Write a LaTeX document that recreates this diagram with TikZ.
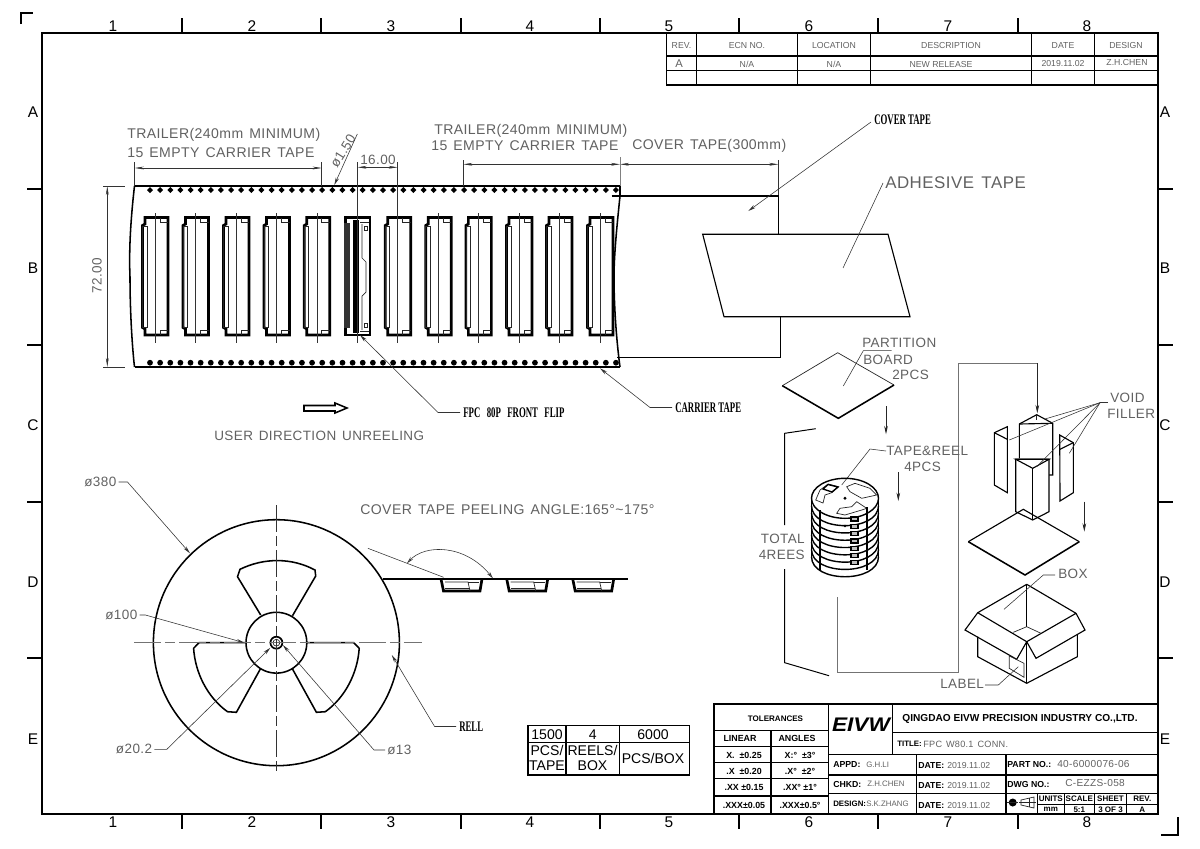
\documentclass[tikz,border=0pt]{standalone}
\usepackage{fontspec}
\setmainfont{Liberation Sans}
\newfontfamily\serifcond[FakeStretch=.6]{Liberation Serif}
\newfontfamily\logofont[FakeStretch=1.15]{Liberation Sans}
\newfontfamily\cadfont[LetterSpace=3,WordSpace=1.4]{Liberation Sans}
\usetikzlibrary{arrows.meta}
\definecolor{cadgray}{gray}{.38}
\newcommand{\fs}[1]{\fontsize{#1}{#1}\selectfont}
\tikzset{
  x=0.025cm,y=-0.025cm,
  thinline/.style={line width=.5pt,draw=black!85},
  heavy/.style={line width=1.9pt,line join=miter},
  frame/.style={line width=1.1pt},
  midline/.style={line width=.8pt},
  leader/.style={line width=.4pt,draw=black!80,-{Stealth[length=5.5pt,width=2.4pt]}},
  dimline/.style={line width=.4pt,draw=black!80,{Stealth[length=6.5pt,width=2pt]}-{Stealth[length=6.5pt,width=2pt]}},
  extline/.style={line width=.4pt,draw=black!80},
  flow/.style={line width=.7pt,draw=black!55},
  drop/.style={line width=.5pt,draw=black!85,-{Stealth[length=6pt,width=2.6pt]}},
  cadtext/.style={font=\fs{10}\cadfont,text=cadgray,inner sep=0pt,anchor=west},
  cadsmall/.style={cadtext,font=\fs{9.6}\cadfont},
  calltext/.style={font=\fs{10.4}\serifcond\bfseries,text=black,inner sep=0pt,anchor=west},
  bordertext/.style={font=\fs{11},text=black,inner sep=0pt},
  revtext/.style={font=\fs{6.2},text=cadgray,inner sep=0pt},
  boxtext/.style={font=\fs{10},text=black,inner sep=0pt},
  tolbold/.style={font=\fs{5.7}\bfseries,text=black,inner sep=0pt},
  tolvalue/.style={font=\fs{6.3}\bfseries,text=black,inner sep=0pt},
  blockbold/.style={font=\fs{6.2}\bfseries,text=black,inner sep=0pt,anchor=west},
  blockgray/.style={font=\fs{6.2},text=cadgray,inner sep=0pt,anchor=west},
  blockcad/.style={font=\fs{7.2}\cadfont,text=cadgray,inner sep=0pt,anchor=west},
}

\begin{document}
\begin{tikzpicture}
  \useasboundingbox (0,0) rectangle (1200,848);

  % sheet frame
  \draw[frame] (42,33) rectangle (1158,814);
  \draw[frame] (21,24) -- (21,13) -- (33,13);
  \draw[frame] (1178,817) -- (1178,835) -- (1161,835);
  \foreach \x in {182,321,461,600,739,878,1018}{
    \draw[frame] (\x,18) -- (\x,33);
    \draw[frame] (\x,814) -- (\x,829);
  }
  \foreach \y in {189,345,502,658}{
    \draw[frame] (27,\y) -- (42,\y);
    \draw[frame] (1158,\y) -- (1173,\y);
  }
  \foreach \n/\x in {1/113,2/252,3/391,4/530,5/669,6/809,7/948,8/1087}{
    \node[bordertext] (top\n) at (\x,26) {\n};
    \node[bordertext] (bot\n) at (\x,822) {\n};
  }
  \foreach \n/\y in {A/112,B/268,C/425,D/582,E/739}{
    \node[bordertext] (left\n) at (33,\y) {\n};
    \node[bordertext] (right\n) at (1165,\y) {\n};
  }

  % revision table
  \draw[frame] (666.7,33) rectangle (1158,85);
  \draw[frame] (666.7,56) -- (1158,56);
  \draw[frame] (666.7,70.7) -- (1158,70.7);
  \foreach \x in {696.7,797.7,870.3,1031.7,1094.3}
    \draw[frame] (\x,33) -- (\x,85);
  \node[revtext] (revA) at (681.5,45) {REV.};
  \node[revtext] (revB) at (747,45) {ECN NO.};
  \node[revtext] (revC) at (834,45) {LOCATION};
  \node[revtext] (revD) at (951,45) {DESCRIPTION};
  \node[revtext] (revE) at (1063,45) {DATE};
  \node[revtext] (revF) at (1126,45) {DESIGN};
  \node[font=\fs{8},text=cadgray,inner sep=0pt] (valA) at (679,63.5) {A};
  \node[revtext] (valB) at (747,64) {N/A};
  \node[revtext] (valC) at (834,64) {N/A};
  \node[revtext] (valD) at (941,64) {NEW RELEASE};
  \node[revtext] (valE) at (1063,63.5) {2019.11.02};
  \node[revtext] (valF) at (1127,62.5) {Z.H.CHEN};

  % carrier tape
  \draw[heavy] (134.5,186) -- (620,186);
  \draw[frame] (134.5,367) -- (620,367);
  \draw[frame] (134.5,186) .. controls (130,225) and (129,255) .. (130,277) .. controls (130,310) and (132,345) .. (134.5,367);
  \draw[frame] (620,186) -- (620,196);
  \draw[frame] (620,196) .. controls (617,225) and (614,255) .. (614,277) .. controls (614,310) and (617,345) .. (620,367);
  \foreach \x in {150,160.13,...,616.5}{
    \fill (\x-3,190) -- (\x,187) -- (\x+3,190) -- (\x,193) -- cycle;
    \fill (\x,362.7) circle[radius=2.9];
  }
  % plain pockets
  \foreach \x in {155,195.5,236,276.5,316.8,397.7,438.2,478.4,519,559,600}{
    \draw[heavy] (\x-10,217.5) -- (\x+13,217.5) -- (\x+13,335) -- (\x-10,335) -- (\x-10,329) -- (\x-12.5,327.5) -- (\x-12.5,225.5) -- (\x-10,224) -- cycle;
    \draw[thinline] (\x-12.5,226) rectangle (\x-8,327);
    \draw[thinline] (\x+5,217.5) -- (\x+5,222.5) -- (\x+13,222.5);
    \draw[thinline] (\x+5,335) -- (\x+5,330) -- (\x+13,330);
    \draw[extline] (\x,213) -- (\x,343);
  }
  % connector shown in its pocket
  \draw[heavy] (345.7,217.5) rectangle (370,335);
  \fill[black!80] (344,223) rectangle (350,328);
  \fill (353.3,220) rectangle (359.3,333);
  \draw[thinline] (362,224) -- (362,258) -- (366,262) -- (366,292) -- (362,296) -- (362,330);
  \draw[thinline] (360,222) -- (369,222);
  \draw[thinline] (360,331) -- (369,331);
  \draw[thinline] (364,226) rectangle (367,230);
  \draw[thinline] (364,323) rectangle (367,327);
  \draw[extline] (357.5,213) -- (357.5,343);

  % dimensions over the tape
  \coordinate (tapeTop) at (0,186);
  \coordinate (dimAL) at (134.7,168);
  \coordinate (dimAR) at (321.7,168);
  \coordinate (dimBL) at (357.5,167.3);
  \coordinate (dimBR) at (397.7,167.3);
  \coordinate (dimCL) at (463.3,164.3);
  \coordinate (dimCR) at (620,164.3);
  \coordinate (dimDR) at (778.3,164.3);
  \draw[dimline] (dimAL) -- (dimAR);
  \draw[dimline] (dimBL) -- (dimBR);
  \draw[dimline] (dimCL) -- (dimCR);
  \draw[dimline] (dimCR) -- (dimDR);
  \draw[extline] (dimAL) ++(0,-6) -- (dimAL |- tapeTop);
  \draw[extline] (dimAR) ++(0,-6) -- (dimAR |- tapeTop);
  \draw[extline] (dimBL) ++(0,-5) -- (357.5,213);
  \draw[extline] (dimBR) ++(0,-5) -- (397.7,213);
  \draw[extline] (dimCL) ++(0,-4) -- (dimCL |- tapeTop);
  \draw[extline,draw=black!50] (dimCR) ++(0,-7) -- (dimCR |- tapeTop);
  \draw[extline] (dimDR) ++(0,-4) -- (778.3,196);
  \coordinate (dimEU) at (107.3,186);
  \coordinate (dimED) at (107.3,367);
  \draw[dimline] (dimEU) -- (dimED);
  \draw[extline] (dimEU) ++(-4,0) -- (125,186);
  \draw[extline] (dimED) ++(-4,0) -- (125,367);
  \node[cadsmall,rotate=90,anchor=center] (dimE) at (97,276) {72.00};
  \node[cadtext] (trailA) at (127,135) {TRAILER(240mm MINIMUM)};
  \node[cadtext] (emptyA) at (127,153) {15 EMPTY CARRIER TAPE};
  \node[cadtext] (trailB) at (434,131) {TRAILER(240mm MINIMUM)};
  \node[cadtext] (emptyB) at (431,146) {15 EMPTY CARRIER TAPE};
  \node[cadtext] (coverLen) at (632,146) {COVER TAPE(300mm)};
  \node[cadsmall,anchor=center] (pitch) at (378,160) {16.00};
  \node[cadsmall,rotate=58,anchor=center] (hole) at (343,151) {ø1.50};
  \coordinate (holeEnd) at (357.3,134);
  \coordinate (holeTip) at (334.3,185);
  \draw[leader] (holeEnd) -- (holeTip);

  % cover tape and adhesive tape
  \draw[midline] (611.7,196) -- (778.3,196) -- (778.3,234.3);
  \draw[midline] (780.7,316.7) -- (780.7,357.7) -- (616.7,357.7);
  \draw[midline] (702.7,234.3) -- (888,234.3) -- (910,316.7) -- (724,316.7) -- cycle;
  \node[calltext] (coverLbl) at (874,120) {COVER TAPE};
  \coordinate (coverTip) at (748.3,211);
  \draw[leader] (coverLbl.west) ++(-3,2) -- (coverTip);
  \node[cadtext,font=\fs{12}\cadfont] (adhesive) at (885,183) {ADHESIVE TAPE};
  \coordinate (adhesiveEnd) at (843,268);
  \draw[extline] (adhesive.west) ++(-2,0) -- (adhesiveEnd);
  \node[calltext] (fpcLbl) at (463,412.5) {FPC\hspace{3pt} 80P\hspace{3pt} FRONT\hspace{3pt} FLIP};
  \coordinate (fpcTip) at (360,335);
  \draw[leader] (fpcLbl.west) ++(-3,0) -- (438,412.5) -- (fpcTip);
  \node[calltext] (carrierLbl) at (675,407.5) {CARRIER TAPE};
  \coordinate (carrierTip) at (600,368.3);
  \draw[leader] (carrierLbl.west) ++(-3,0) -- (650,407.5) -- (carrierTip);
  \draw[frame] (304,405.5) -- (335,405.5) -- (335,403) -- (347,408) -- (335,413) -- (335,411) -- (304,411) -- cycle;
  \node[cadsmall] (userDir) at (214,436) {USER DIRECTION UNREELING};

  % reel front view
  \draw[frame] (276.4,642.7) circle[radius=123];
  \draw[frame] (276.4,642.7) circle[radius=30.4];
  \draw[line width=1.2pt] (276.4,642.7) circle[radius=6];
  \draw[thinline] (276.4,642.7) circle[radius=3.4];
  \draw[frame] (260.7,615) -- (237.5,576.7) -- (240,569.3) .. controls (263.9,557.6) and (291.7,557.5) .. (315,570) -- (315.7,576) -- (292.5,615.7);
  \draw[frame] (246,642.7) -- (199,642.7) -- (193.6,648.3) .. controls (195.2,672.9) and (207.5,697.4) .. (227.5,711.7) -- (236.4,712.3) -- (260.7,668.3);
  \draw[frame] (306.8,642.7) -- (353.8,642.7) -- (359.2,648.3) .. controls (357.6,672.9) and (345.3,697.4) .. (325.3,711.7) -- (316.4,712.3) -- (292.1,668.3);
  \draw[flow,dash pattern=on 19pt off 3pt on 7pt off 3pt] (134,642.7) -- (422,642.7);
  \draw[extline,dash pattern=on 19pt off 3pt on 7pt off 3pt] (276.4,505) -- (276.4,773);
  \node[cadsmall] (d380) at (84,482) {ø380};
  \node[cadsmall] (d100) at (105,615) {ø100};
  \node[cadsmall] (d202) at (115.7,749.3) {ø20.2};
  \node[cadsmall] (d13) at (387,750) {ø13};
  \node[calltext] (rellLbl) at (459,726.5) {RELL};
  \coordinate (tip380) at (190,553.3);
  \coordinate (tip100) at (244.3,642.7);
  \coordinate (tip202) at (270.4,647.7);
  \coordinate (tip13) at (282.9,645);
  \coordinate (tipRell) at (391.8,655);
  \draw[leader] (d380.east) ++(2,0) -- (127.5,482) -- (tip380);
  \draw[leader] (d100.east) ++(2,0) -- (145.4,615) -- (tip100);
  \draw[leader] (d202.east) ++(2,0) -- (166.8,749.3) -- (tip202);
  \draw[leader] (d13.west) ++(-2,0) -- (374,750) -- (tip13);
  \draw[leader] (rellLbl.west) ++(-3,0) -- (434.6,726.5) -- (tipRell);

  % tape peeling off the reel
  \node[cadtext] (peelLbl) at (360,510) {COVER TAPE PEELING ANGLE:165°\textasciitilde175°};
  \draw[heavy] (382.9,579) -- (627.7,579);
  \foreach \x in {441,506.7,572.7}{
    \draw[heavy] (\x,579) -- (\x+2.5,591) -- (\x+39,591) -- (\x+41,579);
    \draw[thinline] (\x+4,582) -- (\x+27,582) -- (\x+29,591);
    \draw[thinline] (\x+4,588) -- (\x+28,588);
    \draw[thinline] (\x+27,582) -- (\x+38,582);
  }
  \coordinate (peelA) at (367.9,548.3);
  \coordinate (peelB) at (443.6,577.3);
  \coordinate (peelC) at (407,563.3);
  \coordinate (peelD) at (492.9,578.3);
  \draw[extline] (peelA) -- (peelB);
  \draw[extline,{Stealth[length=5pt,width=2.5pt,open]}-{Stealth[length=5pt,width=2.5pt,open]}] (peelC) .. controls (425,544) and (465,544) .. (peelD);

  % quantity table
  \draw[frame] (528,725.7) rectangle (689.3,775);
  \draw[frame] (528,742.3) -- (689.3,742.3);
  \draw[frame] (566,725.7) -- (566,775);
  \draw[frame] (619.3,725.7) -- (619.3,775);
  \node[boxtext] (qtyA) at (547,734.5) {1500};
  \node[boxtext] (qtyB) at (592.7,734.5) {4};
  \node[boxtext] (qtyC) at (653,734.5) {6000};
  \node[boxtext] (qtyD) at (547,750.5) {PCS/};
  \node[boxtext] (qtyE) at (547,765.5) {TAPE};
  \node[boxtext] (qtyF) at (592.5,750.5) {REELS/};
  \node[boxtext] (qtyG) at (592.5,765.5) {BOX};
  \node[boxtext] (qtyH) at (653,758.5) {PCS/BOX};

  % partition board and bracket
  \draw[thinline] (782.3,385.7) -- (837.7,352.7) -- (894,385);
  \draw[frame] (782.3,385.7) -- (838.3,418.3) -- (894,385);
  \node[cadsmall] (partA) at (862,343) {PARTITION};
  \node[cadsmall] (partB) at (863,360) {BOARD};
  \node[cadsmall] (partC) at (892,375) {2PCS};
  \coordinate (partEnd) at (843.3,386);
  \draw[extline] (891.7,350.7) -- (863.3,350.7) -- (partEnd);
  \draw[drop] (886,406) -- (886,434.3);
  \draw[flow,draw=black] (815.7,428.7) -- (784.7,433.3) -- (784.7,525);
  \draw[flow,draw=black] (784.7,569) -- (784.7,662.7) -- (829,675.7);
  \node[cadsmall,anchor=east] (totalA) at (805,539) {TOTAL};
  \node[cadsmall,anchor=east] (totalB) at (805,555) {4REES};
  \draw[flow] (837.3,597.3) -- (837.3,672.3) -- (958.3,672.3) -- (958.3,363.3) -- (1037.3,363.3);
  \draw[drop] (1037.3,363.3) -- (1037.3,413.3);

  % stack of reels
  \node[cadsmall] (reelA) at (886,451) {TAPE\&REEL};
  \node[cadsmall] (reelB) at (904,467) {4PCS};
  \coordinate (reelEnd) at (841.7,485);
  \draw[extline] (reelA.west) -- (870,449) -- (reelEnd);
  \draw[drop] (898.3,472.3) -- (898.3,501);
  \draw[line width=1pt] (845,498.3) ellipse[x radius=33.5,y radius=20];
  \draw[line width=1pt] (811.5,498.3) -- (811.5,556.7);
  \draw[line width=1pt] (878.5,498.3) -- (878.5,556.7);
  \foreach \y in {505.6,512.9,520.2,527.5,534.8,542.1,549.4,556.7}
    \draw[line width=1pt] (811.5,\y) .. controls (811.5,\y+26.7) and (878.5,\y+26.7) .. (878.5,\y);
  \draw[thinline] (815.7,500) -- (820,490) -- (828.3,484) -- (838.3,486.7) -- (831.7,492.7) -- (825,495) -- (823,503) -- cycle;
  \draw[line width=1pt] (828,484.5) -- (838,487) -- (832,492) -- (823,489) -- cycle;
  \draw[thinline] (846.7,486.7) -- (855,483.3) -- (870,488.3) -- (876.7,495) -- (861.7,498.3) -- (850,491.7) -- cycle;
  \draw[thinline] (836.7,513.3) -- (840,508.3) -- (851.7,506.7) -- (856.7,501.7) -- (866.7,508.3) -- (861.7,510) -- (845,515) -- cycle;
  \fill (845,498.3) circle[radius=1.6];
  \fill (845,526) circle[radius=1.4];
  \draw[line width=.9pt] (820,510) -- (820,570);
  \draw[line width=.9pt] (867,507) -- (867,570);
  \foreach \y in {517,524.3,...,568}
    \draw[line width=.9pt,fill=black!25] (851,\y) rectangle (858,\y+4);

  % void fillers
  \draw[midline] (994.3,432.7) -- (1007.3,426.7) -- (1007.3,492.7) -- (994.3,485) -- cycle;
  \draw[midline] (994.3,432.7) -- (1007.3,439.3);
  \draw[midline] (1059.7,435) -- (1073.3,442.7) -- (1073.3,492.7) -- (1060,501) -- cycle;
  \draw[midline] (1073.3,442.7) -- (1060,449.3);
  \draw[midline] (1019.3,458.3) -- (1019.3,424) -- (1036.7,414.7) -- (1052.7,423.3) -- (1052.7,475) -- (1049,475);
  \draw[midline] (1019.3,424) -- (1052.7,423.3);
  \draw[thinline] (1036.7,414.7) -- (1036.7,420);
  \draw[midline,fill=white] (1015.7,459.3) -- (1049,459.3) -- (1049,511.7) -- (1032.7,520) -- (1015.7,511.7) -- cycle;
  \draw[midline] (1015.7,459.3) -- (1032.7,468.3) -- (1049,459.3) -- cycle;
  \draw[midline] (1032.7,468.3) -- (1032.7,520);
  \node[cadsmall] (voidA) at (1110,398) {VOID};
  \node[cadsmall] (voidB) at (1107,414) {FILLER};
  \coordinate (voidHub) at (1100,402.7);
  \coordinate (voidTipA) at (1045,419);
  \coordinate (voidTipB) at (1009.3,440);
  \coordinate (voidTipC) at (1036.7,466.7);
  \coordinate (voidTipD) at (1069.3,453.3);
  \draw[extline] (1108,402.7) -- (voidHub);
  \foreach \t in {voidTipA,voidTipB,voidTipC,voidTipD}
    \draw[extline] (voidHub) -- (\t);

  % lower board
  \draw[midline] (968.3,541.7) -- (1023.3,509.3) -- (1079.3,541.7);
  \draw[frame] (968.3,541.7) -- (1025,575) -- (1079.3,541.7);
  \draw[drop] (1084.3,501.7) -- (1084.3,531.7);

  % box
  \draw[midline] (1026.7,584.3) -- (977.7,612.7) -- (965,630) -- (1016.7,659.3) -- (1026.7,641.7) -- (977.7,612.7);
  \draw[midline] (1026.7,584.3) -- (1076,613.3) -- (1085,630) -- (1036,658.3) -- (1026.7,641.7) -- (1076,613.3);
  \draw[midline] (1026.7,584.3) -- (1026.7,626.7);
  \draw[thinline] (1013.3,632.3) -- (1026.7,626.7) -- (1041,633.3);
  \draw[midline] (977.7,636.7) -- (977.7,656.7) -- (1026.7,683.3) -- (1077.3,656.7) -- (1077.3,634.3);
  \draw[midline] (1026.7,641.7) -- (1026.7,683.3);
  \draw[thinline] (1009.3,656) -- (1024,663.3) -- (1024,677.3) -- (1009.3,668.3) -- cycle;
  \node[cadsmall] (boxLbl) at (1058,574) {BOX};
  \coordinate (boxEnd) at (1004,609.3);
  \draw[extline] (boxLbl.west) ++(-3,1) -- (1043.3,575) -- (boxEnd);
  \node[cadsmall] (labelLbl) at (940,684) {LABEL};
  \coordinate (labelEnd) at (1018.3,666.7);
  \draw[extline] (labelLbl.east) ++(1,1) -- (998.3,685) -- (labelEnd);

  % title block
  \draw[frame] (714,704) rectangle (1158,814);
  \draw[frame] (828.3,704) -- (828.3,814);
  \draw[frame] (714,730.7) -- (828.3,730.7);
  \draw[frame] (771,730.7) -- (771,814);
  \foreach \y in {746.7,762.7,778.3,796}
    \draw[frame] (714,\y) -- (828.3,\y);
  \draw[frame] (892.7,704) -- (892.7,754.3);
  \draw[frame] (892.7,732.3) -- (1158,732.3);
  \foreach \y in {754.3,775,793.3}
    \draw[frame] (828.3,\y) -- (1158,\y);
  \draw[frame] (916.7,754.3) -- (916.7,814);
  \draw[frame] (1006,754.3) -- (1006,814);
  \foreach \x in {1037.3,1064.3,1094.3,1126.7}
    \draw[frame] (\x,793.3) -- (\x,814);
  \draw[frame] (1037.3,804.3) -- (1158,804.3);

  \node[tolbold] (tolA) at (775.5,719) {TOLERANCES};
  \node[tolvalue] (tolB) at (740,738.5) {LINEAR};
  \node[tolvalue] (tolC) at (797,738.5) {ANGLES};
  \node[tolvalue] (tolD) at (744,755) {X.\ \ ±0.25};
  \node[tolvalue] (tolE) at (744,771) {.X\ \ ±0.20};
  \node[tolvalue] (tolF) at (744,787.5) {.XX ±0.15};
  \node[tolvalue] (tolG) at (744,805) {.XXX±0.05};
  \node[tolvalue] (tolH) at (800,755) {X:°\ \ ±3°};
  \node[tolvalue] (tolI) at (800,771) {.X°\ \ ±2°};
  \node[tolvalue] (tolJ) at (800,787.5) {.XX° ±1°};
  \node[tolvalue] (tolK) at (800,805) {.XXX±0.5°};
  \node[font=\fs{14}\logofont\bfseries\itshape,inner sep=0pt] (logo) at (861,725) {EIVW};
  \node[font=\fs{7.2}\bfseries,inner sep=0pt] (company) at (1020,719) {QINGDAO EIVW PRECISION INDUSTRY CO.,LTD.};
  \node[blockbold,font=\fs{5.6}\bfseries] (titleA) at (897,744) {TITLE:};
  \node[blockcad,font=\fs{6.5}\cadfont] (titleB) at (923,744) {FPC W80.1 CONN.};
  \node[blockbold] (appdA) at (833,764) {APPD:};
  \node[blockgray,font=\fs{5.6}] (appdB) at (866,765) {G.H.LI};
  \node[blockbold] (chkdA) at (833,784) {CHKD:};
  \node[blockgray,font=\fs{5.6}] (chkdB) at (867,784) {Z.H.CHEN};
  \node[blockbold,font=\fs{5.6}\bfseries] (desA) at (833,804) {DESIGN:};
  \node[blockgray,font=\fs{5.6}] (desB) at (866,804) {S.K.ZHANG};
  \foreach \n/\y in {A/765,B/785,C/805}{
    \node[blockbold] (date\n) at (918,\y) {DATE:};
    \node[blockgray] (when\n) at (947,\y) {2019.11.02};
  }
  \node[blockbold] (partNo) at (1007,764) {PART NO.:};
  \node[blockcad] (partVal) at (1057,764) {40-6000076-06};
  \node[blockbold] (dwgNo) at (1007,784) {DWG NO.:};
  \node[blockcad] (dwgVal) at (1065,783) {C-EZZS-058};
  \fill (1012.7,802.5) circle[radius=4];
  \draw[thinline] (1007,802.5) -- (1018,802.5);
  \draw[thinline] (1021,800) -- (1034,797) -- (1034,808) -- (1021,805) -- cycle;
  \draw[thinline] (1019,802.5) -- (1036,802.5);
  \draw[thinline] (1029,798) -- (1029,807);
  \node[tolbold] (unitA) at (1050.8,799) {UNITS};
  \node[tolbold] (unitB) at (1050.8,809.5) {mm};
  \node[tolbold] (scaleA) at (1079.3,799) {SCALE};
  \node[tolbold] (scaleB) at (1079.3,809.5) {5:1};
  \node[tolbold] (sheetA) at (1110.5,799) {SHEET};
  \node[tolbold] (sheetB) at (1110.5,809.5) {3 OF 3};
  \node[tolbold] (revLbl) at (1142.3,799) {REV.};
  \node[tolbold] (revVal) at (1142.3,809.5) {A};
\end{tikzpicture}
\end{document}
